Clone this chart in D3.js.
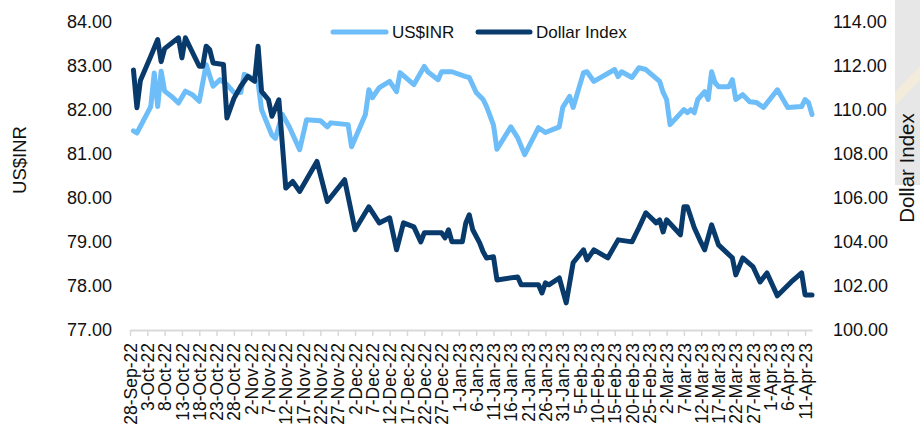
<!DOCTYPE html>
<html>
<head>
<meta charset="utf-8">
<script src="https://cdn.jsdelivr.net/npm/d3@7/dist/d3.min.js"></script>
<style>
  html, body { margin: 0; padding: 0; background: #ffffff; }
  svg { display: block; font-family: "Liberation Sans", Arial, sans-serif; }
</style>
</head>
<body>
<svg id="chart" width="920" height="428"></svg>
<script>
// ---------------- DATA ----------------
const inrDates = ["2022-09-29","2022-09-30","2022-10-04","2022-10-05","2022-10-06","2022-10-07","2022-10-08","2022-10-10","2022-10-12","2022-10-14","2022-10-16","2022-10-18","2022-10-20","2022-10-22","2022-10-24","2022-10-26","2022-10-28","2022-10-30","2022-10-31","2022-11-02","2022-11-04","2022-11-05","2022-11-08","2022-11-09","2022-11-11","2022-11-13","2022-11-16","2022-11-18","2022-11-22","2022-11-24","2022-11-25","2022-11-30","2022-12-01","2022-12-05","2022-12-06","2022-12-07","2022-12-09","2022-12-12","2022-12-14","2022-12-15","2022-12-19","2022-12-22","2022-12-23","2022-12-26","2022-12-27","2022-12-30","2023-01-03","2023-01-04","2023-01-06","2023-01-08","2023-01-09","2023-01-11","2023-01-12","2023-01-16","2023-01-18","2023-01-20","2023-01-24","2023-01-26","2023-01-30","2023-01-31","2023-02-02","2023-02-03","2023-02-06","2023-02-07","2023-02-09","2023-02-15","2023-02-16","2023-02-17","2023-02-20","2023-02-22","2023-02-24","2023-02-28","2023-03-01","2023-03-02","2023-03-03","2023-03-07","2023-03-08","2023-03-09","2023-03-10","2023-03-11","2023-03-13","2023-03-14","2023-03-15","2023-03-16","2023-03-17","2023-03-20","2023-03-21","2023-03-22","2023-03-24","2023-03-26","2023-03-28","2023-03-30","2023-04-03","2023-04-06","2023-04-10","2023-04-11","2023-04-12","2023-04-13"];
const inrValues = [81.52,81.47,82.07,82.83,82.07,82.87,82.42,82.30,82.15,82.42,82.34,82.19,83.02,82.53,82.68,82.57,82.39,82.39,82.80,82.73,82.61,82.00,81.42,81.35,81.89,81.61,81.09,81.77,81.75,81.61,81.70,81.66,81.16,81.89,82.45,82.27,82.50,82.64,82.41,82.84,82.57,82.98,82.86,82.68,82.86,82.86,82.75,82.73,82.39,82.23,82.07,81.65,81.10,81.61,81.36,80.98,81.59,81.48,81.61,82.05,82.30,82.05,82.84,82.86,82.64,82.91,82.75,82.86,82.73,82.95,82.91,82.64,82.39,82.23,81.66,82.00,81.93,82.00,81.93,82.23,82.41,82.23,82.86,82.61,82.52,82.52,82.68,82.23,82.34,82.18,82.16,82.05,82.45,82.05,82.07,82.23,82.16,81.89];

const dxyDates = ["2022-09-29","2022-09-30","2022-10-01","2022-10-04","2022-10-06","2022-10-07","2022-10-08","2022-10-12","2022-10-13","2022-10-14","2022-10-18","2022-10-19","2022-10-20","2022-10-21","2022-10-22","2022-10-25","2022-10-26","2022-10-28","2022-10-30","2022-11-01","2022-11-03","2022-11-04","2022-11-05","2022-11-07","2022-11-08","2022-11-10","2022-11-12","2022-11-14","2022-11-16","2022-11-21","2022-11-24","2022-11-29","2022-12-02","2022-12-06","2022-12-09","2022-12-12","2022-12-14","2022-12-16","2022-12-19","2022-12-21","2022-12-22","2022-12-27","2022-12-28","2022-12-29","2022-12-30","2023-01-02","2023-01-03","2023-01-04","2023-01-05","2023-01-07","2023-01-08","2023-01-09","2023-01-11","2023-01-12","2023-01-18","2023-01-19","2023-01-24","2023-01-25","2023-01-26","2023-01-27","2023-01-30","2023-02-01","2023-02-03","2023-02-06","2023-02-07","2023-02-09","2023-02-13","2023-02-16","2023-02-20","2023-02-22","2023-02-24","2023-02-27","2023-02-28","2023-03-01","2023-03-02","2023-03-06","2023-03-07","2023-03-08","2023-03-10","2023-03-12","2023-03-13","2023-03-15","2023-03-17","2023-03-21","2023-03-22","2023-03-24","2023-03-27","2023-03-29","2023-03-31","2023-04-03","2023-04-07","2023-04-10","2023-04-11","2023-04-13"];
const dxyValues = [111.80,110.09,111.32,112.42,113.18,112.18,112.77,113.26,112.35,113.26,111.97,111.97,112.88,112.73,112.12,112.05,109.62,110.50,111.06,111.51,111.29,112.88,110.83,110.45,109.70,110.45,106.44,106.74,106.29,107.65,105.83,106.82,104.55,105.59,104.86,105.09,103.64,104.86,104.68,104.00,104.41,104.41,104.18,104.55,104.00,104.00,104.86,105.23,104.55,103.95,103.55,103.27,103.32,102.27,102.41,102.05,102.05,101.68,102.14,102.05,102.36,101.23,103.05,103.64,103.18,103.64,103.27,104.09,104.00,104.64,105.32,104.86,105.00,104.45,105.00,104.32,105.59,105.59,104.64,103.95,103.64,104.77,103.86,103.27,102.50,103.27,102.86,102.18,102.59,101.55,102.18,102.59,101.59,101.59];

const leftTicks = [77, 78, 79, 80, 81, 82, 83, 84];
const rightTicks = [100, 102, 104, 106, 108, 110, 112, 114];
const seriesNames = ["US$INR", "Dollar Index"];
const axisStart = "2022-09-28";
const axisEnd = "2023-04-13";

// ---------------- CHART ----------------
const parse = d3.timeParse("%Y-%m-%d");
const fmt = d3.timeFormat("%-d-%b-%y");
const svg = d3.select("#chart");
const colors = ["#6dbdf8", "#083b6c"];

// background strip at right edge (as in the reference screenshot)
svg.append("rect").attr("x", 895).attr("y", 0).attr("width", 25).attr("height", 185).attr("fill", "#e7e7e7");
svg.append("polygon").attr("points", "895,92 920,66 920,80 895,106").attr("fill", "#f4ecdb");

const x = d3.scaleTime().domain([parse(axisStart), parse(axisEnd)]).range([130, 812]);
const yL = d3.scaleLinear().domain([77, 84]).range([330, 21.5]);
const yR = d3.scaleLinear().domain([100, 114]).range([330, 21.5]);

// left axis labels
svg.append("g").selectAll("text").data(leftTicks).join("text")
  .attr("x", 112).attr("y", d => yL(d)).attr("dy", "0.35em")
  .attr("text-anchor", "end").attr("font-size", 18).attr("fill", "#111")
  .text(d => d.toFixed(2));

// right axis labels
svg.append("g").selectAll("text").data(rightTicks).join("text")
  .attr("x", 833).attr("y", d => yR(d)).attr("dy", "0.35em")
  .attr("text-anchor", "start").attr("font-size", 18).attr("fill", "#111")
  .text(d => d.toFixed(2));

// axis titles
svg.append("text").attr("transform", "translate(26,160) rotate(-90)")
  .attr("text-anchor", "middle").attr("font-size", 18.5).attr("fill", "#111").text(seriesNames[0]);
svg.append("text").attr("transform", "translate(914,168) rotate(-90)")
  .attr("text-anchor", "middle").attr("font-size", 20.5).attr("fill", "#111").text(seriesNames[1]);

// x axis
const tickDates = d3.timeDay.range(parse(axisStart), parse(axisEnd), 5);
const xAxis = d3.axisBottom(x).tickValues(tickDates).tickFormat(fmt).tickSize(6).tickSizeOuter(0);
const gx = svg.append("g").attr("transform", "translate(0,330)").call(xAxis);
gx.select(".domain").attr("stroke", "#d9d9d9").attr("stroke-width", 2);
gx.selectAll(".tick line").attr("stroke", "#d9d9d9").attr("stroke-width", 1.5);
gx.selectAll(".tick text")
  .attr("font-size", 17.5).attr("font-family", "'Liberation Sans', Arial, sans-serif")
  .attr("fill", "#111")
  .attr("transform", "rotate(-90)")
  .attr("text-anchor", "end")
  .attr("x", -13).attr("y", 0).attr("dy", "0.35em");

// lines
const inrData = inrDates.map((d, i) => ({ date: parse(d), v: inrValues[i] }));
const dxyData = dxyDates.map((d, i) => ({ date: parse(d), v: dxyValues[i] }));

const lineL = d3.line().x(d => x(d.date)).y(d => yL(d.v));
const lineR = d3.line().x(d => x(d.date)).y(d => yR(d.v));

svg.append("path").datum(inrData).attr("d", lineL)
  .attr("fill", "none").attr("stroke", colors[0]).attr("stroke-width", 5)
  .attr("stroke-linejoin", "round").attr("stroke-linecap", "round");
svg.append("path").datum(dxyData).attr("d", lineR)
  .attr("fill", "none").attr("stroke", colors[1]).attr("stroke-width", 5)
  .attr("stroke-linejoin", "round").attr("stroke-linecap", "round");

// legend
const legend = [
  { name: seriesNames[0], color: colors[0], x1: 333, x2: 386, tx: 392 },
  { name: seriesNames[1], color: colors[1], x1: 478, x2: 530, tx: 536 }
];
const lg = svg.append("g");
lg.selectAll("line").data(legend).join("line")
  .attr("x1", d => d.x1).attr("x2", d => d.x2).attr("y1", 32).attr("y2", 32)
  .attr("stroke", d => d.color).attr("stroke-width", 5).attr("stroke-linecap", "round");
lg.selectAll("text").data(legend).join("text")
  .attr("x", d => d.tx).attr("y", 32).attr("dy", "0.35em")
  .attr("font-size", 17).attr("fill", "#111").text(d => d.name);
</script>
</body>
</html>
